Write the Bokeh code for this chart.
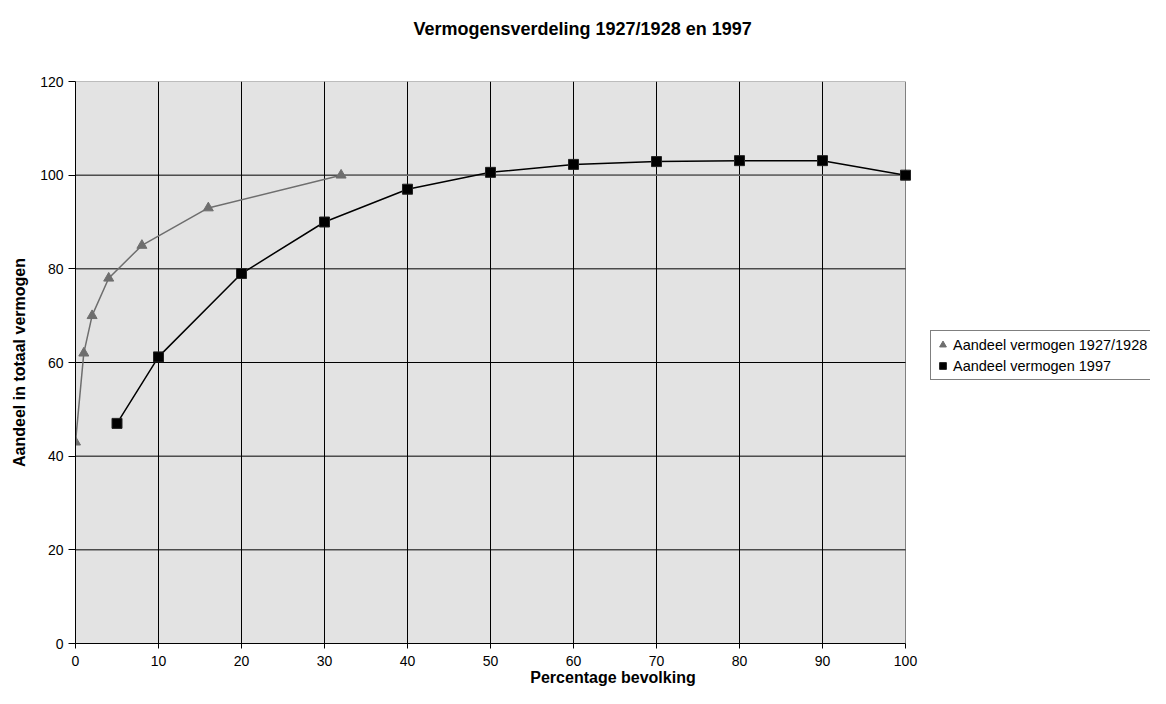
from bokeh.plotting import figure
from bokeh.models import Range1d, FixedTicker, Legend, LegendItem, Title
from bokeh.embed import file_html
from bokeh.resources import INLINE

# Data
pct_1928 = [0, 1, 2, 4, 8, 16, 32, 100]
share_1928 = [43, 62, 70, 78, 85, 93, 100, 100]
pct_1997 = [5, 10, 20, 30, 40, 50, 60, 70, 80, 90, 100]
share_1997 = [47, 61.2, 79, 90, 97, 100.6, 102.3, 102.9, 103.1, 103.1, 100]
x_ticks = [0, 10, 20, 30, 40, 50, 60, 70, 80, 90, 100]
y_ticks = [0, 20, 40, 60, 80, 100, 120]
series_names = ["Aandeel vermogen 1927/1928", "Aandeel vermogen 1997"]
title_text = "Vermogensverdeling 1927/1928 en 1997"
x_label = "Percentage bevolking"
y_label = "Aandeel in totaal vermogen"

FONT = "Liberation Sans"

W, H = 1150, 688
LEFT, TOP, BOTTOM = 75, 81, 43
PLOT_RIGHT_PX = 905          # pixel where x = 100 falls
x_min, x_max = x_ticks[0], x_ticks[-1]
y_min, y_max = y_ticks[0], y_ticks[-1]
# frame extends to the right edge so the legend can live inside it
x_end = x_min + (x_max - x_min) * (W - LEFT) / (PLOT_RIGHT_PX - LEFT)

p = figure(width=W, height=H, output_backend="svg", toolbar_location=None,
           x_range=Range1d(x_min, x_end), y_range=Range1d(y_min, y_max),
           min_border_left=LEFT, min_border_right=0, min_border_top=TOP,
           min_border_bottom=BOTTOM)
p.title = None
p.background_fill_color = "white"
p.border_fill_color = "white"
p.outline_line_color = None

# Title: spacer nearest the frame, real title above it
spacer = Title(text=" ", text_font=FONT, text_font_size="26px", standoff=0)
p.add_layout(spacer, "above")
title = Title(text=title_text, text_font=FONT, text_font_size="18px",
              text_font_style="bold", text_color="black",
              align="left", offset=338, standoff=22)
p.add_layout(title, "above")

# Plot area background
p.quad(left=[x_min], right=[x_max], bottom=[y_min], top=[y_max],
       fill_color="#E3E3E3", line_color="#808080", line_width=1, level="image")

# Axes
p.xaxis.ticker = FixedTicker(ticks=x_ticks)
p.yaxis.ticker = FixedTicker(ticks=y_ticks)
p.xaxis.bounds = (x_min, x_max)
for ax in (p.xaxis, p.yaxis):
    ax.axis_line_color = "black"
    ax.axis_line_width = 1
    ax.major_tick_line_color = "black"
    ax.major_tick_in = 0
    ax.minor_tick_line_color = None
    ax.major_label_text_font = FONT
    ax.major_label_text_font_size = "14px"
    ax.major_label_text_color = "black"
    ax.axis_label_text_font = FONT
    ax.axis_label_text_font_size = "16px"
    ax.axis_label_text_font_style = "bold"
    ax.axis_label_text_color = "black"
p.xaxis.major_tick_out = 5
p.yaxis.major_tick_out = 7
p.xaxis.major_label_standoff = 7
p.yaxis.major_label_standoff = 5
p.xaxis.axis_label = x_label
p.yaxis.axis_label = y_label
p.xaxis.axis_label_standoff = 0
p.yaxis.axis_label_standoff = 9

# Grid
p.xgrid.ticker = FixedTicker(ticks=x_ticks[1:-1])
p.xgrid.grid_line_color = "#000000"
p.xgrid.grid_line_width = 1
p.ygrid.grid_line_color = None
inner_y = y_ticks[1:-1]
p.segment(x0=[x_min] * len(inner_y), y0=inner_y, x1=[x_max] * len(inner_y), y1=inner_y,
          line_color="#000000", line_width=1, level="underlay")

# Series
gray = "#6E6E6E"
p.line(pct_1928, share_1928, line_color=gray, line_width=1.5)
r1 = p.scatter(pct_1928, share_1928, marker="triangle", size=10,
               fill_color=gray, line_color=gray)
p.line(pct_1997, share_1997, line_color="black", line_width=1.5)
r2 = p.scatter(pct_1997, share_1997, marker="square", size=10,
               fill_color="black", line_color="#222222")

legend = Legend(items=[LegendItem(label=series_names[0], renderers=[r1]),
                       LegendItem(label=series_names[1], renderers=[r2])],
                location=(930 - LEFT, 263))
legend.label_text_font = FONT
legend.label_text_font_size = "14.5px"
legend.label_text_color = "black"
legend.border_line_color = "black"
legend.border_line_width = 1
legend.background_fill_color = "white"
legend.background_fill_alpha = 1
legend.padding = 3
legend.margin = 0
legend.spacing = 0
legend.glyph_width = 17
legend.glyph_height = 21
legend.label_height = 21
legend.label_standoff = 2
p.add_layout(legend, "center")

open("out.html", "w").write(file_html(p, INLINE))
